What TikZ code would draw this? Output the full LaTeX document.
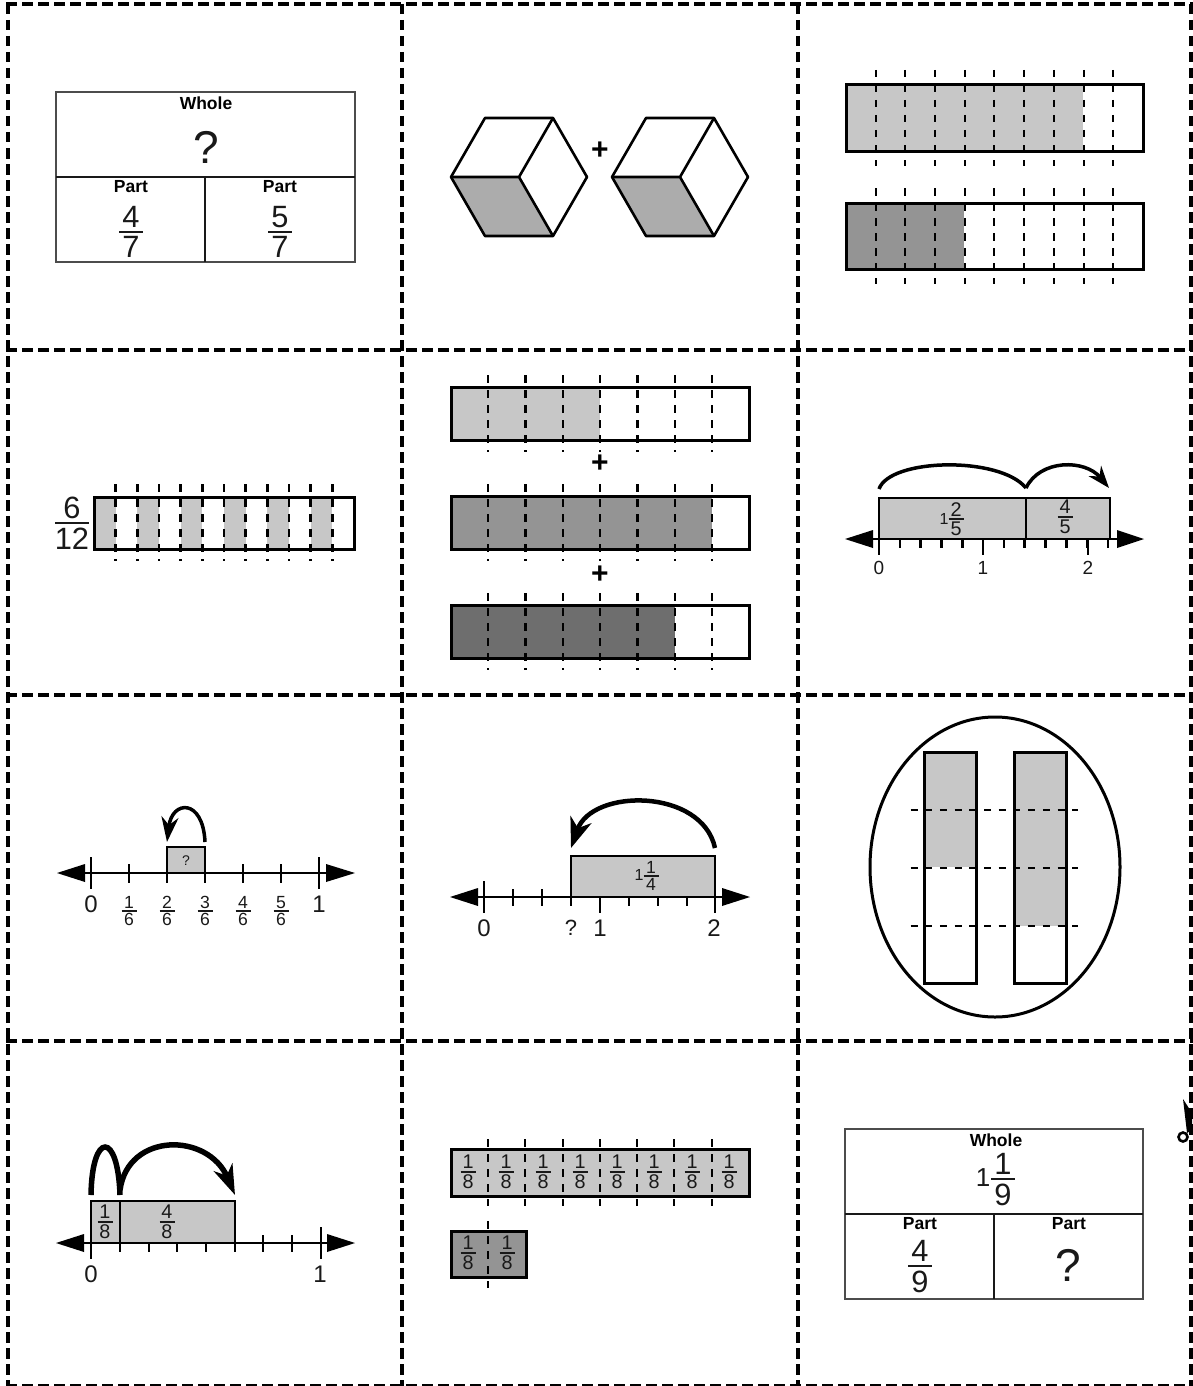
\documentclass[tikz,border=0pt]{standalone}
\usepackage{fontspec}
\setmainfont{Liberation Sans}
\usetikzlibrary{arrows.meta}
\definecolor{ink}{gray}{0.1}
\definecolor{lite}{gray}{0.78}
\definecolor{midg}{gray}{0.58}
\definecolor{darkg}{gray}{0.43}
\newcount\nid
\newcommand\fs[1]{\fontsize{#1}{#1}\selectfont}
% x, y, size, text
\newcommand\txt[4]{\global\advance\nid by 1
  \node[lab,font=\fs{#3}] (n\the\nid) at (#1,#2) {#4};}
\newcommand\btxt[4]{\global\advance\nid by 1
  \node[lab,font=\fs{#3}\bfseries,text=black] (n\the\nid) at (#1,#2) {#4};}
% x, bar y, size, half width, numerator, denominator
\newcommand\frc[6]{%
  \pgfmathsetmacro\offs{0.55*#3}%
  \pgfmathsetmacro\fsz{1.1*#3}%
  \txt{#1}{#2-\offs}{\fsz}{#5}%
  \txt{#1}{#2+\offs}{\fsz}{#6}%
  \draw[line width={max(1.6,0.08*#3)},draw=ink] (#1-#4,#2) -- (#1+#4,#2);}
% left tip, left base, right base, right tip, y
\newcommand\axis[5]{%
  \draw[axisl] (#2,#5) -- (#3,#5);
  \fill[black] (#1,#5) -- (#2,#5-9) -- (#2,#5+9) -- cycle;
  \fill[black] (#4,#5) -- (#3,#5-9) -- (#3,#5+9) -- cycle;}
\tikzset{
  lab/.style={inner sep=0pt,outer sep=0pt,text=ink},
  cutline/.style={line width=4pt,dash pattern=on 10.5pt off 5.5pt,draw=black},
  barbox/.style={line width=3pt,draw=black},
  axisl/.style={line width=2.5pt,draw=black},
  tickl/.style={line width=2.6pt,draw=black},
  divl/.style={line width=2.6pt,dash pattern=on 7.5pt off 7.5pt,draw=black},
  fine/.style={line width=1.2pt,draw=black!70},
  thick2/.style={line width=2.5pt,draw=black!90},
  jump/.style={line width=3.5pt,draw=black},
  numbox/.style={line width=2.5pt,draw=black},
}
\begin{document}
\begin{tikzpicture}[x=1pt,y=-1pt]
\useasboundingbox (0,0) rectangle (1193,1386);
\clip (0,0) rectangle (1193,1386);
\fill[white] (0,0) rectangle (1193,1386);
% ---- cell 1
\draw[fine] (56,92) rectangle (355,262);
\draw[thick2] (56,177) -- (355,177);
\draw[thick2] (205,177) -- (205,262);
\btxt{206}{103}{17.5}{Whole}
\txt{206}{147}{46}{?}
\btxt{131}{187}{17.5}{Part}
\btxt{280}{187}{17.5}{Part}
\frc{131}{232}{28}{12}{4}{7}
\frc{280}{232}{28}{12}{5}{7}
% ---- cell 2
\foreach \d in {0,161}{
  \begin{scope}[xshift=\d pt]
  \fill[gray!65] (451,177) -- (519,177) -- (553,236) -- (485,236) -- cycle;
  \draw[line width=2.6pt,line join=round] (451,177) -- (485,118) -- (553,118) -- (587,177) -- (553,236) -- (485,236) -- cycle;
  \draw[line width=2.6pt,line join=round] (451,177) -- (519,177) -- (553,118) (519,177) -- (553,236);
  \end{scope}
}
\btxt{600}{151}{30}{+}
% ---- cell 3
\fill[lite] (846,85) rectangle (1083,151);
\fill[midg] (846,203) rectangle (964,269);
\draw[barbox] (846,85) rectangle (1143,151);
\draw[barbox] (846,203) rectangle (1143,269);
\foreach \x in {876,905,935,965,994,1024,1054,1084,1113}{
  \draw[divl] (\x,70) -- (\x,166);
  \draw[divl] (\x,188) -- (\x,284);
}
% ---- cell 4
\frc{72}{523}{28}{17}{6}{12}
\foreach \x in {94,137.3,180.7,224,267.3,310.7}{
  \fill[lite] (\x,497) rectangle ++(21.67,52);
}
\draw[barbox] (94,497) rectangle (354,549);
\foreach \i in {1,...,11}{
  \pgfmathsetmacro\x{94+21.67*\i}
  \draw[divl] (\x,484) -- (\x,561);
}
% ---- cell 5
\fill[lite] (451,387) rectangle (600,440);
\fill[midg] (451,496) rectangle (712,549);
\fill[darkg] (451,605) rectangle (675,658);
\draw[barbox] (451,387) rectangle (749,440);
\draw[barbox] (451,496) rectangle (749,549);
\draw[barbox] (451,605) rectangle (749,658);
\foreach \x in {488,525.5,563,600,637.5,675,712}{
  \draw[divl] (\x,375) -- (\x,452);
  \draw[divl] (\x,484) -- (\x,561);
  \draw[divl] (\x,593) -- (\x,670);
}
\btxt{600}{464}{30}{+}
\btxt{600}{575}{30}{+}
% ---- cell 6
\fill[lite] (879,498) rectangle (1110,539);
\draw[numbox] (879,539) -- (879,498) -- (1110,498) -- (1110,539) (1026,498) -- (1026,539);
\axis{845}{873}{1117}{1144}{539}
\foreach \i in {0,...,11}{
  \pgfmathsetmacro\x{879+20.8*\i}
  \draw[tickl] (\x,539) -- (\x,548);
}
\foreach \x in {879,983,1088}{\draw[tickl] (\x,539) -- (\x,555);}
\txt{879}{568}{19}{0}
\txt{983}{568}{19}{1}
\txt{1088}{568}{19}{2}
\txt{944}{519}{16}{1}
\frc{956}{519}{18}{7.5}{2}{5}
\frc{1065}{517}{18}{7.5}{4}{5}
\draw[jump] (879,489) .. controls (890,458) and (1000,456) .. (1026,488);
\draw[jump,-{Stealth[length=22pt,width=16pt,inset=7pt]}] (1026,488) .. controls (1040,459) and (1085,459) .. (1109,488);
% ---- cell 7
\fill[lite] (167,847) rectangle (205,873);
\draw[numbox] (167,873) -- (167,847) -- (205,847) -- (205,873);
\axis{57}{85}{326}{355}{873}
\foreach \x in {129,167,205,243,281}{\draw[tickl] (\x,864) -- (\x,883);}
\foreach \x in {91,319}{\draw[tickl] (\x,857) -- (\x,889);}
\txt{186}{861}{14}{?}
\txt{91}{904}{24}{0}
\txt{319}{904}{24}{1}
\frc{129}{911}{16}{7.5}{1}{6}
\frc{167}{911}{16}{7.5}{2}{6}
\frc{205}{911}{16}{7.5}{3}{6}
\frc{243}{911}{16}{7.5}{4}{6}
\frc{281}{911}{16}{7.5}{5}{6}
\draw[jump,-{Stealth[length=25pt,width=17pt,inset=8pt]}] (205,842) .. controls (203,798) and (172,800) .. (167,842);
% ---- cell 8
\fill[lite] (571,856) rectangle (715,897);
\draw[numbox] (571,897) -- (571,856) -- (715,856) -- (715,897);
\axis{450}{478}{722}{750}{897}
\foreach \x in {513,542}{\draw[tickl] (\x,889) -- (\x,906);}
\foreach \x in {571,629,658,687}{\draw[tickl] (\x,897) -- (\x,906);}
\draw[tickl] (484,881) -- (484,913);
\draw[tickl] (600,897) -- (600,913);
\draw[tickl] (715,897) -- (715,913);
\txt{484}{928}{24}{0}
\txt{571}{928}{22}{?}
\txt{600}{928}{24}{1}
\txt{714}{928}{24}{2}
\txt{639}{875}{16}{1}
\frc{651}{876}{16}{7.5}{1}{4}
\draw[line width=4.5pt,-{Stealth[length=30pt,width=22pt,inset=9pt]}] (715,848) .. controls (702,788) and (592,788) .. (571,848);
% ---- cell 9
\draw[line width=3pt] (995,867) ellipse [x radius=125,y radius=150];
\fill[lite] (924,752) rectangle (976,867);
\fill[lite] (1014,752) rectangle (1066,926);
\draw[barbox] (924,752) rectangle (976,983);
\draw[barbox] (1014,752) rectangle (1066,983);
\foreach \y in {810,868,926}{
  \draw[line width=2.6pt,dash pattern=on 7pt off 7.7pt] (910.5,\y) -- (1078,\y);
}
% ---- cell 10
\fill[lite] (91,1201) rectangle (235,1243);
\draw[numbox] (91,1243) -- (91,1201) -- (235,1201) -- (235,1243) (120,1201) -- (120,1243);
\axis{56}{84}{327}{355}{1243}
\foreach \x in {120,149,177,206,235}{\draw[tickl] (\x,1243) -- (\x,1252);}
\foreach \x in {263,292}{\draw[tickl] (\x,1235) -- (\x,1252);}
\draw[tickl] (91,1243) -- (91,1259);
\draw[tickl] (321,1227) -- (321,1259);
\txt{91}{1274}{24}{0}
\txt{320}{1274}{24}{1}
\frc{105}{1222}{18}{7.5}{1}{8}
\frc{167}{1222}{18}{7.5}{4}{8}
\draw[line width=5.5pt] (91,1195) .. controls (92,1131) and (118,1131) .. (120,1195);
\draw[line width=5.5pt,-{Stealth[length=30pt,width=20pt,inset=9pt]}] (120,1190) .. controls (128,1132) and (208,1132) .. (235,1195);
% ---- cell 11
\fill[lite] (451,1149) rectangle (749,1196);
\fill[midg] (451,1231) rectangle (526,1277);
\draw[barbox] (451,1149) rectangle (749,1196);
\draw[barbox] (451,1231) rectangle (526,1277);
\foreach \x in {488,525,563,600,637,674,712}{
  \draw[divl] (\x,1139) -- (\x,1206);
}
\draw[divl] (488,1221) -- (488,1288);
\foreach \x in {468,506,543,580,617,654,692,729}{\frc{\x}{1172}{18}{7.5}{1}{8}}
\frc{468}{1253}{18}{7.5}{1}{8}
\frc{507}{1253}{18}{7.5}{1}{8}
% ---- cell 12
\draw[fine] (845,1129) rectangle (1143,1299);
\draw[thick2] (845,1214) -- (1143,1214);
\draw[thick2] (994,1214) -- (994,1299);
\btxt{996}{1140}{17.5}{Whole}
\txt{983}{1178}{26}{1}
\frc{1003}{1179}{28}{12}{1}{9}
\btxt{920}{1224}{17.5}{Part}
\btxt{1069}{1224}{17.5}{Part}
\frc{920}{1266}{28}{12}{4}{9}
\txt{1068}{1265}{46}{?}
% ---- cut lines
\foreach \x in {7.5,402,798,1191}{\draw[cutline] (\x,4) -- (\x,1386);}
\foreach \y in {350,695,1041}{\draw[cutline] (6,\y) -- (1193,\y);}
\draw[cutline] (6,4) -- (1193,4);
\draw[line width=2.5pt,dash pattern=on 10.5pt off 5.5pt] (6,1385) -- (1193,1385);
% ---- scissors
\draw[line width=2.6pt,fill=white] (1183,1137) circle (4.5);
\fill[black] (1183,1099) -- (1192,1113) -- (1192,1130) -- (1187,1133) -- cycle;
\end{tikzpicture}
\end{document}
